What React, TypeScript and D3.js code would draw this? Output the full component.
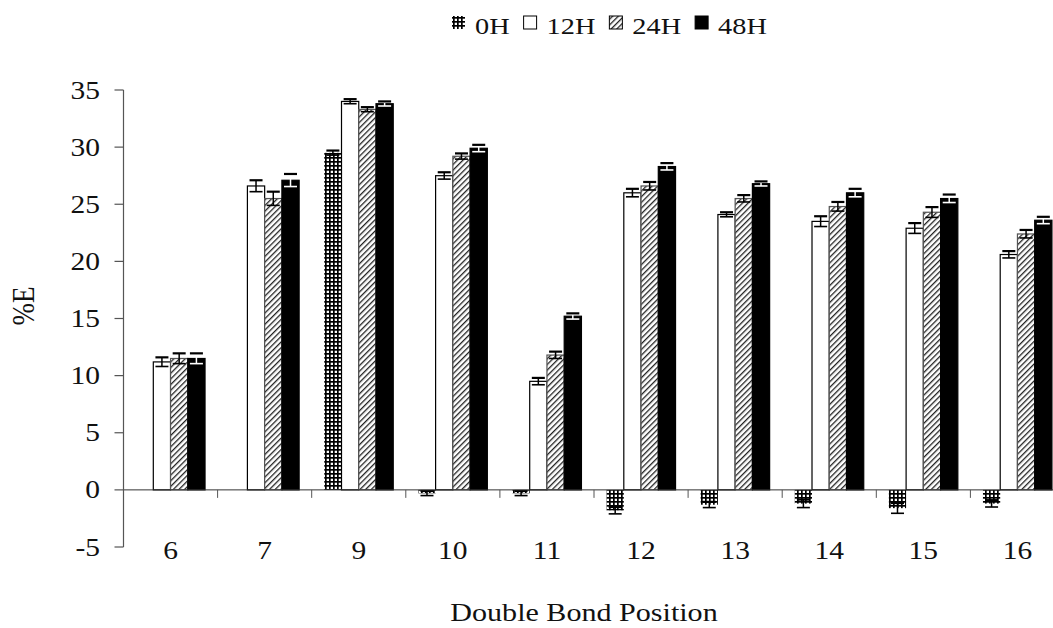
import { useEffect, useRef } from "react";
import * as d3 from "d3";

// Double bond positions on the x axis
const categories = ["6", "7", "9", "10", "11", "12", "13", "14", "15", "16"];
const seriesNames = ["0H", "12H", "24H", "48H"];

// %E per series
const values0H = [0, 0, 29.5, -0.3, -0.3, -1.8, -1.3, -1.2, -1.6, -1.2];
const values12H = [11.2, 26.6, 34.0, 27.5, 9.5, 26.0, 24.1, 23.5, 22.9, 20.6];
const values24H = [11.5, 25.5, 33.3, 29.2, 11.8, 26.6, 25.5, 24.8, 24.3, 22.4];
const values48H = [11.5, 27.1, 33.8, 29.9, 15.2, 28.3, 26.8, 26.0, 25.5, 23.6];

// error bar half-lengths
const err0H = [0, 0, 0.2, 0.2, 0.2, 0.3, 0.25, 0.35, 0.45, 0.3];
const err12H = [0.4, 0.5, 0.2, 0.3, 0.3, 0.35, 0.2, 0.45, 0.45, 0.3];
const err24H = [0.45, 0.6, 0.2, 0.25, 0.3, 0.35, 0.3, 0.4, 0.45, 0.35];
const err48H = [0.45, 0.55, 0.2, 0.3, 0.25, 0.3, 0.2, 0.35, 0.35, 0.3];

const yTicks = [-5, 0, 5, 10, 15, 20, 25, 30, 35];

const FONT = "'Liberation Serif', 'Times New Roman', serif";
const SX = 1.18; // scanned figure is stretched horizontally

const CFG = {
  WIDTH: 1053,
  HEIGHT: 628,
  X0: 123.5,
  STEP: 94.1,
  Y_TOP: 90,
  Y_BOTTOM: 547,
  BAR_FRAC: 0.733,
  TICK_FONT: 25,
};

export default function App() {
  const svgRef = useRef<SVGSVGElement>(null);

  useEffect(() => {
    if (!svgRef.current) return;
    const svg = d3.select(svgRef.current);
    svg.selectAll("*").remove();

    const defs = svg.append("defs");

    // 0H: dense grid / plaid
    const grid = defs
      .append("pattern")
      .attr("id", "pat0")
      .attr("patternUnits", "userSpaceOnUse")
      .attr("width", 4)
      .attr("height", 4);
    grid.append("rect").attr("width", 4).attr("height", 4).attr("fill", "#fff");
    grid.append("rect").attr("x", 0).attr("y", 1).attr("width", 4).attr("height", 1.7).attr("fill", "#000");
    grid.append("rect").attr("x", 1).attr("y", 0).attr("width", 1.7).attr("height", 4).attr("fill", "#000");

    // 24H: diagonal hatch
    const hatch = defs
      .append("pattern")
      .attr("id", "pat24")
      .attr("patternUnits", "userSpaceOnUse")
      .attr("width", 4)
      .attr("height", 4)
      .attr("patternTransform", "rotate(45)");
    hatch.append("rect").attr("width", 4).attr("height", 4).attr("fill", "#fff");
    hatch.append("rect").attr("x", 0).attr("y", 0).attr("width", 1.3).attr("height", 4).attr("fill", "#222");

    const fills: Record<string, string> = {
      "0H": "url(#pat0)",
      "12H": "#fff",
      "24H": "url(#pat24)",
      "48H": "#000",
    };
    const strokes: Record<string, string> = {
      "0H": "none",
      "12H": "#000",
      "24H": "#555",
      "48H": "#000",
    };

    const valueMap: Record<string, number[]> = {
      "0H": values0H,
      "12H": values12H,
      "24H": values24H,
      "48H": values48H,
    };
    const errMap: Record<string, number[]> = {
      "0H": err0H,
      "12H": err12H,
      "24H": err24H,
      "48H": err48H,
    };

    const pad = 1 - CFG.BAR_FRAC;
    const x = d3
      .scaleBand<string>()
      .domain(categories)
      .range([CFG.X0, CFG.X0 + CFG.STEP * categories.length])
      .paddingInner(pad)
      .paddingOuter(pad / 2);
    const xs = d3.scaleBand<string>().domain(seriesNames).range([0, x.bandwidth()]);
    const y = d3.scaleLinear().domain([-5, 35]).range([CFG.Y_BOTTOM, CFG.Y_TOP]);

    const stretched = (
      sel: d3.Selection<SVGGElement, unknown, null, undefined>,
      tx: number,
      ty: number,
      str: string,
      size: number,
      anchor: string
    ) =>
      sel
        .append("text")
        .attr("transform", `translate(${tx},${ty}) scale(${SX},1)`)
        .attr("text-anchor", anchor)
        .attr("font-family", FONT)
        .attr("font-size", size)
        .attr("fill", "#111")
        .text(str);

    const root = svg.append("g");

    // bars
    const rows = categories.flatMap((c, i) =>
      seriesNames.map((s) => ({ c, s, v: valueMap[s][i], e: errMap[s][i] }))
    );

    root
      .selectAll("rect.bar")
      .data(rows)
      .enter()
      .append("rect")
      .attr("class", "bar")
      .attr("x", (d) => (x(d.c) ?? 0) + (xs(d.s) ?? 0))
      .attr("width", xs.bandwidth())
      .attr("y", (d) => Math.min(y(d.v), y(0)))
      .attr("height", (d) => Math.abs(y(d.v) - y(0)))
      .attr("fill", (d) => fills[d.s])
      .attr("stroke", (d) => strokes[d.s])
      .attr("stroke-width", 1.2);

    // error bars
    const eb = root
      .selectAll("g.err")
      .data(rows.filter((d) => d.e > 0))
      .enter()
      .append("g")
      .attr("class", "err");
    const cx = (d: { c: string; s: string }) => (x(d.c) ?? 0) + (xs(d.s) ?? 0) + xs.bandwidth() / 2;
    const cap = 6.5;
    eb.append("line")
      .attr("x1", cx)
      .attr("x2", cx)
      .attr("y1", (d) => y(d.v + d.e))
      .attr("y2", (d) => y(d.v - d.e))
      .attr("stroke", (d) => (d.s === "48H" ? "#fff" : "#000"))
      .attr("stroke-width", 1.5);
    eb.append("line")
      .attr("x1", (d) => cx(d) - cap)
      .attr("x2", (d) => cx(d) + cap)
      .attr("y1", (d) => y(d.v + d.e))
      .attr("y2", (d) => y(d.v + d.e))
      .attr("stroke", "#000")
      .attr("stroke-width", 2.2);
    eb.append("line")
      .attr("x1", (d) => cx(d) - cap)
      .attr("x2", (d) => cx(d) + cap)
      .attr("y1", (d) => y(d.v - d.e))
      .attr("y2", (d) => y(d.v - d.e))
      .attr("stroke", (d) => (d.s === "48H" ? "#fff" : "#000"))
      .attr("stroke-width", 1.6);

    // x axis at zero
    root
      .append("line")
      .attr("x1", CFG.X0)
      .attr("x2", CFG.X0 + CFG.STEP * categories.length)
      .attr("y1", y(0))
      .attr("y2", y(0))
      .attr("stroke", "#333")
      .attr("stroke-width", 1);
    categories.slice(1).forEach((c) => {
      const bx = (x(c) ?? 0) - (x.step() - x.bandwidth()) / 2;
      root
        .append("line")
        .attr("x1", bx)
        .attr("x2", bx)
        .attr("y1", y(0))
        .attr("y2", y(0) + 8)
        .attr("stroke", "#555")
        .attr("stroke-width", 1);
    });
    categories.forEach((c) => {
      stretched(root, (x(c) ?? 0) + x.bandwidth() / 2, 559, c, CFG.TICK_FONT, "middle");
    });

    // y axis
    root
      .append("line")
      .attr("x1", CFG.X0)
      .attr("x2", CFG.X0)
      .attr("y1", y(35))
      .attr("y2", y(-5))
      .attr("stroke", "#555")
      .attr("stroke-width", 1.2);
    yTicks.forEach((t) => {
      root
        .append("line")
        .attr("x1", CFG.X0 - 9)
        .attr("x2", CFG.X0)
        .attr("y1", y(t))
        .attr("y2", y(t))
        .attr("stroke", "#555")
        .attr("stroke-width", 1.2);
      stretched(root, 100, y(t) + 8.5, String(t), CFG.TICK_FONT, "end");
    });

    // axis titles
    root
      .append("text")
      .attr("transform", `translate(34,306) rotate(-90) scale(1,${SX})`)
      .attr("text-anchor", "middle")
      .attr("font-family", FONT)
      .attr("font-size", 27)
      .attr("fill", "#111")
      .text("%E");
    stretched(root, 584, 621, "Double Bond Position", 25.5, "middle");

    // legend
    const legend = root.append("g");
    let lx = 452;
    seriesNames.forEach((s) => {
      legend
        .append("rect")
        .attr("x", lx)
        .attr("y", 16)
        .attr("width", 13)
        .attr("height", 13)
        .attr("fill", fills[s])
        .attr("stroke", s === "0H" ? "none" : "#000")
        .attr("stroke-width", 1);
      const t = stretched(legend, lx + 23, 34, s, 24, "start");
      const w = (t.node() as SVGTextElement).getComputedTextLength() * SX;
      lx += 23 + w + 14;
    });
  }, []);

  return (
    <div style={{ position: "absolute", left: 0, top: 0, width: CFG.WIDTH, height: CFG.HEIGHT, overflow: "hidden", background: "#fff" }}>
      <svg ref={svgRef} width={CFG.WIDTH} height={CFG.HEIGHT} style={{ display: "block" }} />
    </div>
  );
}
